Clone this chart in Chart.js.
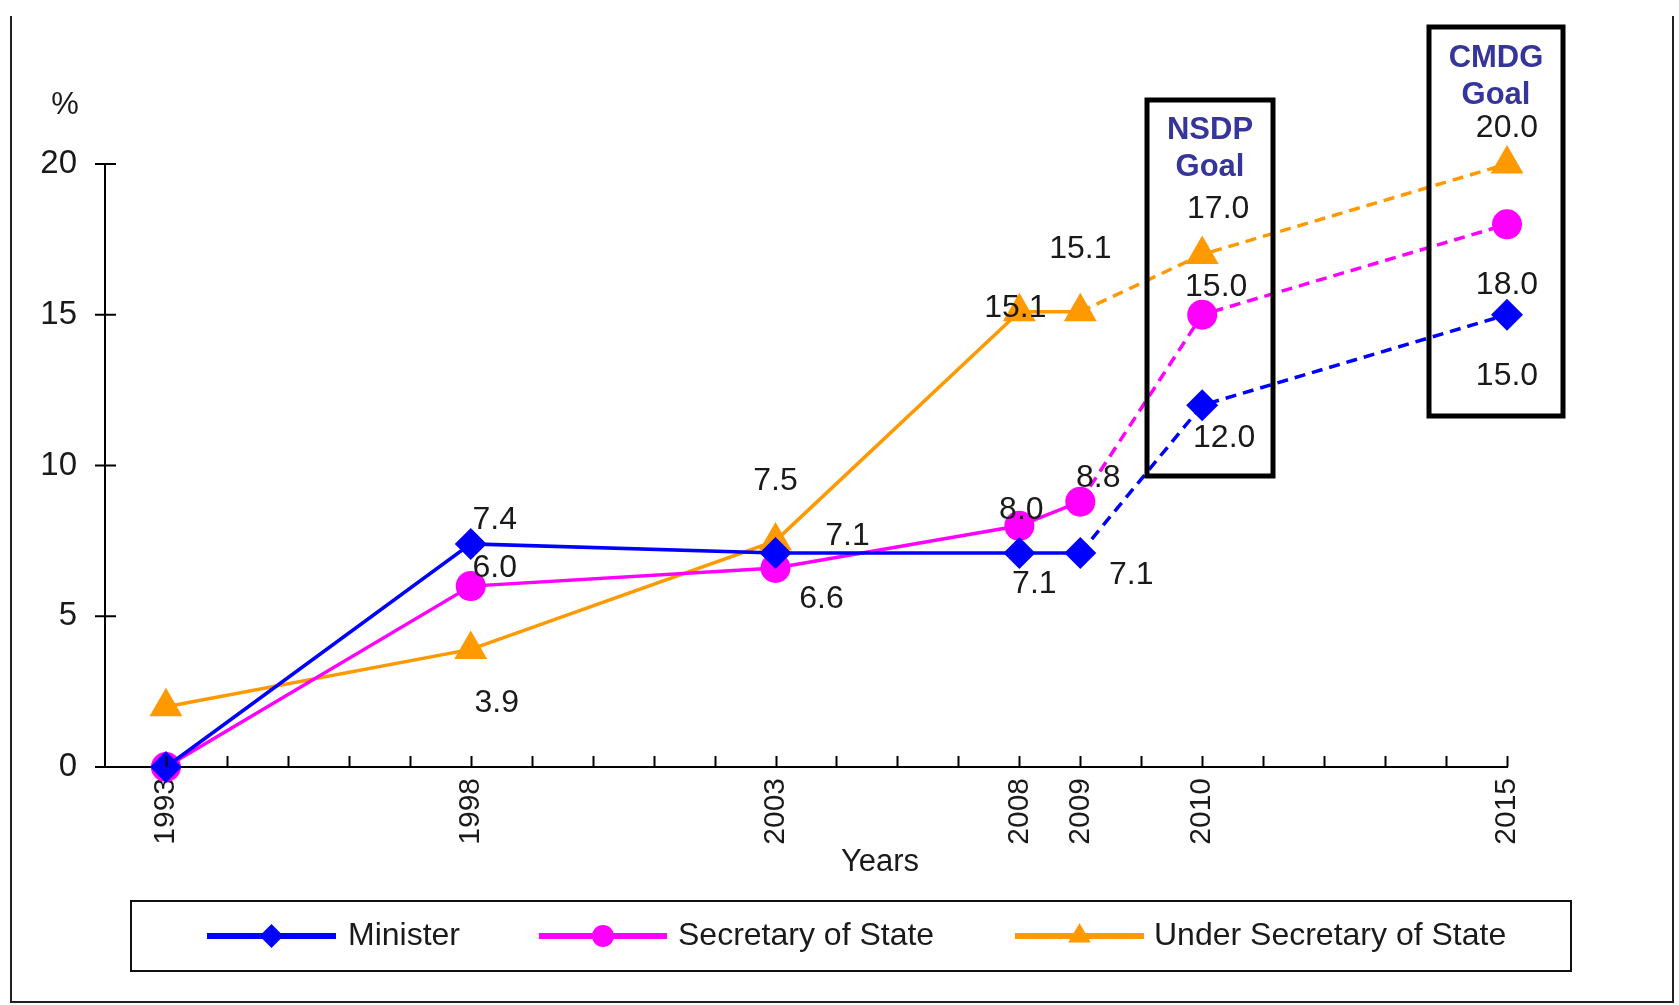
<!DOCTYPE html>
<html>
<head>
<meta charset="utf-8">
<script src="https://cdn.jsdelivr.net/npm/chart.js@4/dist/chart.umd.min.js"></script>
<style>
  html, body { margin: 0; padding: 0; background: #fff; }
  #wrap { width: 1679px; height: 1005px; position: relative; }
</style>
</head>
<body>
<div id="wrap"><canvas id="chart" width="1679" height="1005"></canvas></div>
<script>
// Women in senior government positions, actual values and goals (%)
const years = ['1993', '1998', '2003', '2008', '2009', '2010', '2015'];
const minister = [0.0, 7.4, 7.1, 7.1, 7.1, 12.0, 15.0];
const secretaryOfState = [0.0, 6.0, 6.6, 8.0, 8.8, 15.0, 18.0];
const underSecretaryOfState = [2.0, 3.9, 7.5, 15.1, 15.1, 17.0, 20.0];
const seriesNames = ['Minister', 'Secretary of State', 'Under Secretary of State'];
const yTickValues = [0, 5, 10, 15, 20];
// category slots along the year axis (blank slots carry only a tick mark)
const xCategories = ['', '1993', '', '', '', '', '1998', '', '', '', '', '2003', '', '', '',
                     '2008', '2009', '', '2010', '', '', '', '', '2015'];
const goalStartYear = '2009';   // segments from here on are goals, drawn dashed
const goalBoxTitles = [['NSDP', 'Goal'], ['CMDG', 'Goal']];

const FONT = '"Liberation Sans", Arial, Helvetica, sans-serif';
const INK = '#1a1a1a';
const NAVY = '#35359a';

// value label placement (pixel offsets from each point); null = no label
const labelOffsets = [
  [null, [24, -24], [72, -17], [15, 31], [51, 22], [22, 33], [0, 61]],
  [null, [24, -18], [46, 31], [2, -16], [18, -24], [14, -28], [0, 61]],
  [null, [26, 54], [0, -60], [-4, -4], [0, -63], [16, -45], [0, -36]]
];
const boxRects = [
  { x: 1147, y: 100, w: 126, h: 376 },
  { x: 1429, y: 27, w: 134, h: 389 }
];
const boxTitleY = [[130, 167], [58, 95]];
const legendItems = [
  { x1: 207, x2: 336, tx: 348, r: 12 },
  { x1: 539, x2: 667, tx: 678, r: 11 },
  { x1: 1015, x2: 1144, tx: 1154, r: 13 }
];

const colors = ['#0000ff', '#ff00ff', '#ff9900'];
const pointStyles = ['rectRot', 'circle', 'triangle'];
const pointRadii = [16, 15, 19];
const values = [minister, secretaryOfState, underSecretaryOfState];
const goalStartIndex = xCategories.indexOf(goalStartYear);

const datasets = values.map((vals, i) => ({
  label: seriesNames[i],
  data: vals.map((v, j) => ({ x: years[j], y: v })),
  borderColor: colors[i],
  backgroundColor: colors[i],
  pointBackgroundColor: colors[i],
  pointBorderColor: colors[i],
  pointBorderWidth: 0,
  pointStyle: pointStyles[i],
  pointRadius: pointRadii[i],
  pointHoverRadius: pointRadii[i],
  borderWidth: 3.5,
  tension: 0,
  clip: false,
  segment: {
    borderDash: ctx => ctx.p0.parsed.x >= goalStartIndex ? [11, 7] : undefined
  }
}));

const decorations = {
  id: 'decorations',
  afterDraw(chart) {
    const ctx = chart.ctx;
    const xs = chart.scales.x, ys = chart.scales.y;
    const x0 = xs.getPixelForValue(0), y0 = ys.getPixelForValue(0);
    ctx.save();
    ctx.strokeStyle = '#000';
    ctx.lineWidth = 2;
    // y axis tick marks (crossing the axis)
    yTickValues.forEach(v => {
      const py = ys.getPixelForValue(v);
      ctx.beginPath(); ctx.moveTo(x0 - 10, py); ctx.lineTo(x0 + 11, py); ctx.stroke();
    });
    // x axis tick marks, one per slot, pointing inward
    for (let k = 1; k < xCategories.length; k++) {
      const px = Math.round(xs.getPixelForValue(k)) + 0.5;
      ctx.beginPath(); ctx.moveTo(px, y0); ctx.lineTo(px, y0 - 11); ctx.stroke();
    }
    // axis captions
    ctx.fillStyle = INK;
    ctx.font = '31px ' + FONT;
    ctx.textAlign = 'center';
    ctx.textBaseline = 'middle';
    ctx.fillText('%', 65, 105);
    ctx.fillText('Years', 880, 862);

    // legend
    ctx.lineWidth = 2;
    ctx.strokeStyle = '#111';
    ctx.strokeRect(131, 901, 1440, 70);
    legendItems.forEach((it, i) => {
      const ly = 936;
      ctx.strokeStyle = colors[i];
      ctx.lineWidth = 6;
      ctx.beginPath(); ctx.moveTo(it.x1, ly); ctx.lineTo(it.x2, ly); ctx.stroke();
      ctx.fillStyle = colors[i];
      Chart.helpers.drawPoint(ctx, { pointStyle: pointStyles[i], radius: it.r, rotation: 0, borderWidth: 0 }, (it.x1 + it.x2) / 2, ly);
      ctx.fillStyle = INK;
      ctx.font = '32px ' + FONT;
      ctx.textAlign = 'left';
      ctx.textBaseline = 'middle';
      ctx.fillText(seriesNames[i], it.tx, ly);
    });

    // outer frame
    ctx.strokeStyle = '#222';
    ctx.lineWidth = 2;
    ctx.beginPath();
    ctx.moveTo(11, 16); ctx.lineTo(11, 1002); ctx.lineTo(1673, 1002); ctx.lineTo(1673, 16);
    ctx.stroke();
    ctx.restore();
  },
  afterDatasetsDraw(chart) {
    const ctx = chart.ctx;
    ctx.save();
    // goal boxes
    ctx.strokeStyle = '#000';
    ctx.lineWidth = 5;
    boxRects.forEach((b, k) => {
      ctx.strokeRect(b.x, b.y, b.w, b.h);
      ctx.fillStyle = NAVY;
      ctx.font = 'bold 31px ' + FONT;
      ctx.textAlign = 'center';
      ctx.textBaseline = 'middle';
      goalBoxTitles[k].forEach((t, n) => ctx.fillText(t, b.x + b.w / 2, boxTitleY[k][n]));
    });
    // value labels
    ctx.fillStyle = INK;
    ctx.font = '32px ' + FONT;
    ctx.textAlign = 'center';
    ctx.textBaseline = 'middle';
    chart.data.datasets.forEach((ds, i) => {
      const meta = chart.getDatasetMeta(i);
      meta.data.forEach((pt, j) => {
        const off = labelOffsets[i][j];
        if (!off) return;
        ctx.fillText(ds.data[j].y.toFixed(1), pt.x + off[0], pt.y + off[1]);
      });
    });
    ctx.restore();
  }
};

Chart.defaults.font.family = FONT;
Chart.defaults.color = INK;

new Chart(document.getElementById('chart'), {
  type: 'line',
  data: { labels: xCategories, datasets },
  options: {
    responsive: false,
    animation: false,
    events: [],
    layout: { padding: { top: 164, right: 172, bottom: 0, left: 0 } },
    plugins: { legend: { display: false }, tooltip: { enabled: false } },
    scales: {
      x: {
        type: 'category',
        offset: false,
        afterFit: s => { s.height = 238; },
        grid: { display: false, drawTicks: false },
        border: { display: true, color: '#000', width: 2 },
        ticks: {
          autoSkip: false,
          minRotation: 90,
          maxRotation: 90,
          padding: 11,
          color: INK,
          font: { size: 30 }
        }
      },
      y: {
        min: 0,
        max: 20,
        afterFit: s => { s.width = 105; },
        afterBuildTicks: s => { s.ticks = yTickValues.map(v => ({ value: v })); },
        grid: { display: false, drawTicks: false },
        border: { display: true, color: '#000', width: 2 },
        ticks: { padding: 28, color: INK, font: { size: 33 } }
      }
    }
  },
  plugins: [decorations]
});
</script>
</body>
</html>
